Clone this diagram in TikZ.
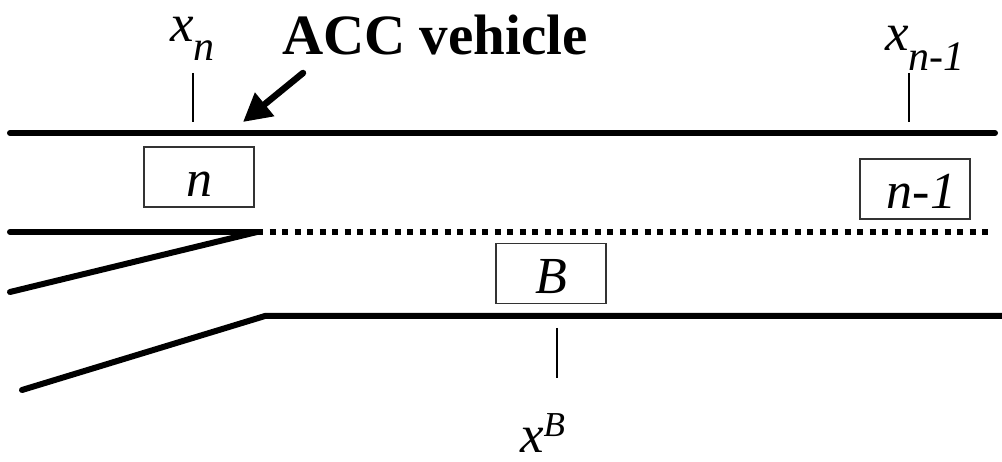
\documentclass[tikz,border=0pt]{standalone}
\usepackage{fontspec}
\setmainfont{Liberation Serif}
\usetikzlibrary{arrows.meta}
\newcommand{\bigit}{\fontsize{52}{58}\selectfont\itshape}
\newcommand{\lblit}{\fontsize{53}{59}\selectfont\itshape}
\newcommand{\subsz}{\fontsize{42}{46}\selectfont\itshape}
\newcommand{\supsz}{\fontsize{35}{40}\selectfont\itshape}
\begin{document}
\begin{tikzpicture}[x=1pt,y=-1pt,
  road/.style={line width=6pt,line cap=round},
  lane/.style={line width=6pt,dash pattern=on 6pt off 6.5pt},
  car/.style={draw=black!80,line width=1.3pt,minimum width=110pt,minimum height=60pt,inner sep=0pt,text height=40pt,text depth=0pt},
  tick/.style={line width=1.2pt},
  lbl/.style={inner sep=0pt,anchor=base west,text height=26pt}]
\useasboundingbox (0,0) rectangle (1002,462);
% roads
\coordinate (t1) at (10,133); \coordinate (t2) at (995,133);
\coordinate (m1) at (10,232); \coordinate (m2) at (257,232); \coordinate (m3) at (990,232);
\coordinate (d1) at (10,292);
\coordinate (b1) at (22,390); \coordinate (b2) at (265,316); \coordinate (b3) at (1005,316);
\draw[road] (t1) -- (t2);
\draw[road] (m1) -- (m2);
\draw[road] (d1) -- (m2);
\draw[lane] (m2) -- (m3);
\draw[road] (b1) -- (b2) -- (b3);
% vehicles
\node[car] (n) at (199,177) {\bigit n};
\node[car] (n1) at (915,189) {\bigit \ n-1};
\node[car] (B) at (551,273.5) {\bigit B};
% labels
\node[lbl] (xn) at (170,42) {\lblit x\raisebox{-19pt}{\subsz n}};
\node[lbl] (xn1) at (885,51) {\lblit x\raisebox{-20pt}{\subsz n-1}};
\node[lbl,text height=38pt] (xB) at (520,452) {\lblit x\raisebox{16pt}{\supsz B}};
\node[lbl,text height=40pt] (acc) at (282,55) {\fontsize{57}{62}\selectfont\bfseries ACC vehicle};
% ticks
\coordinate (k1a) at (193,73); \coordinate (k1b) at (193,122);
\coordinate (k2a) at (909,73); \coordinate (k2b) at (909,122);
\coordinate (k3a) at (557,328); \coordinate (k3b) at (557,378);
\draw[tick] (k1a) -- (k1b);
\draw[tick] (k2a) -- (k2b);
\draw[tick] (k3a) -- (k3b);
% arrow
\coordinate (ar1) at (303,73); \coordinate (ar2) at (243,122);
\draw[line width=6.5pt,line cap=round,-{Triangle[length=28pt,width=29pt]}] (ar1) -- (ar2);
\end{tikzpicture}
\end{document}
